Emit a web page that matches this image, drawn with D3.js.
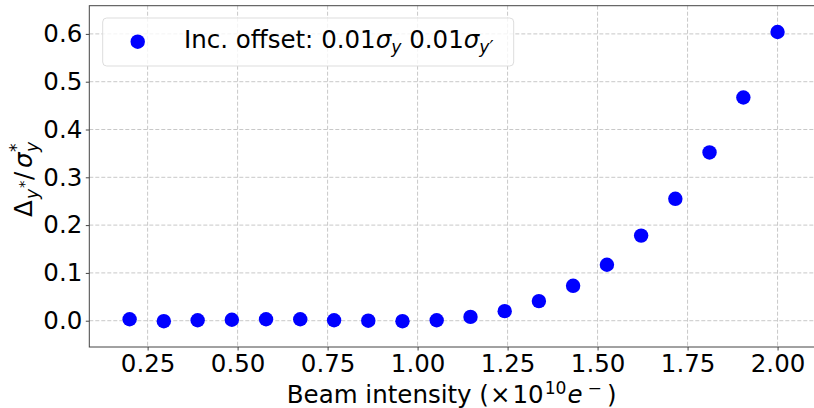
<!DOCTYPE html>
<html>
<head>
<meta charset="utf-8">
<script src="https://cdn.jsdelivr.net/npm/d3@7"></script>
<style>
  html, body { margin: 0; padding: 0; background: #fff; }
  svg { display: block; font-family: "DejaVu Sans", sans-serif; }
</style>
</head>
<body>
<svg id="chart" width="814" height="408"></svg>
<script>
// Beam intensity (x 10^10 e-) for each simulated run
const intensity = [0.200, 0.295, 0.389, 0.484, 0.579, 0.674, 0.768, 0.863, 0.958, 1.053,
                   1.147, 1.242, 1.337, 1.432, 1.526, 1.621, 1.716, 1.811, 1.905, 2.000];
// Normalised offset at the IP
const offset = [0.003, -0.001, 0.001, 0.002, 0.003, 0.003, 0.001, 0.000, -0.001, 0.001,
                0.008, 0.020, 0.041, 0.073, 0.117, 0.178, 0.255, 0.352, 0.467, 0.604];
const xTicks = [0.25, 0.50, 0.75, 1.00, 1.25, 1.50, 1.75, 2.00];
const yTicks = [0.0, 0.1, 0.2, 0.3, 0.4, 0.5, 0.6];

const svg = d3.select("#chart");
const plotL = 89.3, plotR = 815, plotT = 5.7, plotB = 347;

const x = d3.scaleLinear().domain([0.088, 2.104]).range([plotL, plotR]);
const y = d3.scaleLinear().domain([-0.055, 0.659]).range([plotB, plotT]);

const FS = 24.5;
const gridColor = "#c8c8c8";

// grid
const grid = svg.append("g");
grid.selectAll("line.gx").data(xTicks).join("line")
  .attr("x1", d => x(d)).attr("x2", d => x(d))
  .attr("y1", plotT).attr("y2", plotB)
  .attr("stroke", gridColor).attr("stroke-width", 1).attr("stroke-dasharray", "4,2");
grid.selectAll("line.gy").data(yTicks).join("line")
  .attr("x1", plotL).attr("x2", plotR)
  .attr("y1", d => y(d)).attr("y2", d => y(d))
  .attr("stroke", gridColor).attr("stroke-width", 1).attr("stroke-dasharray", "4,2");

// axes
const xAxis = d3.axisBottom(x).tickValues(xTicks).tickFormat(d3.format(".2f"))
  .tickSizeInner(3.5).tickSizeOuter(0).tickPadding(3.5);
const yAxis = d3.axisLeft(y).tickValues(yTicks).tickFormat(d3.format(".1f"))
  .tickSizeInner(3.5).tickSizeOuter(0).tickPadding(3.5);

const gx = svg.append("g").attr("transform", `translate(0,${plotB})`).call(xAxis);
const gy = svg.append("g").attr("transform", `translate(${plotL},0)`).call(yAxis);
[gx, gy].forEach(g => {
  g.select(".domain").remove();
  g.selectAll(".tick line").attr("stroke", "#444").attr("stroke-width", 1);
  g.selectAll(".tick text").attr("fill", "#000")
    .style("font-family", "DejaVu Sans").style("font-size", FS + "px");
});
gx.selectAll(".tick text").attr("dy", "0.74em");

// spines
svg.append("rect").attr("x", plotL).attr("y", plotT)
  .attr("width", plotR - plotL).attr("height", plotB - plotT)
  .attr("fill", "none").attr("stroke", "#444").attr("stroke-width", 1);

// points
svg.append("g").selectAll("circle").data(intensity).join("circle")
  .attr("cx", d => x(d))
  .attr("cy", (d, i) => y(offset[i]))
  .attr("r", 7.2)
  .attr("fill", "#0000ff");

// legend
const lg = svg.append("g");
lg.append("rect").attr("x", 102.7).attr("y", 18).attr("width", 411).attr("height", 48)
  .attr("rx", 4).attr("fill", "#fff").attr("fill-opacity", 0.8)
  .attr("stroke", "#dddddd").attr("stroke-width", 1);
lg.append("circle").attr("cx", 137.7).attr("cy", 41.7).attr("r", 7.2).attr("fill", "#0000ff");
const lt = lg.append("text").attr("x", 184).attr("y", 48)
  .style("font-size", FS + "px").attr("fill", "#000");
lt.append("tspan").text("Inc. offset: 0.01");
lt.append("tspan").attr("font-style", "italic").text("σ");
lt.append("tspan").attr("font-style", "italic").attr("font-size", "70%").attr("dy", 5).text("y");
lt.append("tspan").attr("dy", -5).text(" 0.01");
lt.append("tspan").attr("font-style", "italic").text("σ");
lt.append("tspan").attr("font-style", "italic").attr("font-size", "70%").attr("dy", 5).text("y′");

// x label with small gaps around the math pieces
const xl = svg.append("text").attr("x", (plotL + 814) / 2).attr("y", 403)
  .attr("text-anchor", "middle")
  .style("font-size", FS + "px").attr("fill", "#000");
xl.append("tspan").text("Beam intensity (");
xl.append("tspan").attr("dx", 1).text("×");
xl.append("tspan").attr("dx", 2).text("10");
xl.append("tspan").attr("dx", 1).attr("font-size", "70%").attr("dy", -9).text("10");
xl.append("tspan").attr("dx", 1).attr("font-style", "italic").attr("dy", 9).text("e");
xl.append("tspan").attr("dx", 5).attr("font-size", "70%").attr("dy", -9).text("−");
xl.append("tspan").attr("dx", 5).attr("dy", 9).text(")");

// y label, reading upward
const yl = svg.append("text")
  .attr("transform", "translate(32,217) rotate(-90)")
  .style("font-size", FS + "px").attr("fill", "#000");
yl.append("tspan").attr("x", 0).text("Δ");
yl.append("tspan").attr("x", 18).attr("font-style", "italic").attr("font-size", "70%").attr("dy", 6).text("y");
yl.append("tspan").attr("x", 29).attr("font-size", "60%").attr("dy", -9).text("*");
yl.append("tspan").attr("x", 37).attr("dy", 3).text("/");
yl.append("tspan").attr("x", 49).attr("font-style", "italic").text("σ");
yl.append("tspan").attr("x", 65).attr("font-size", "70%").attr("dy", -10).text("*");
yl.append("tspan").attr("x", 65).attr("font-style", "italic").attr("font-size", "70%").attr("dy", 16).text("y");
</script>
</body>
</html>
